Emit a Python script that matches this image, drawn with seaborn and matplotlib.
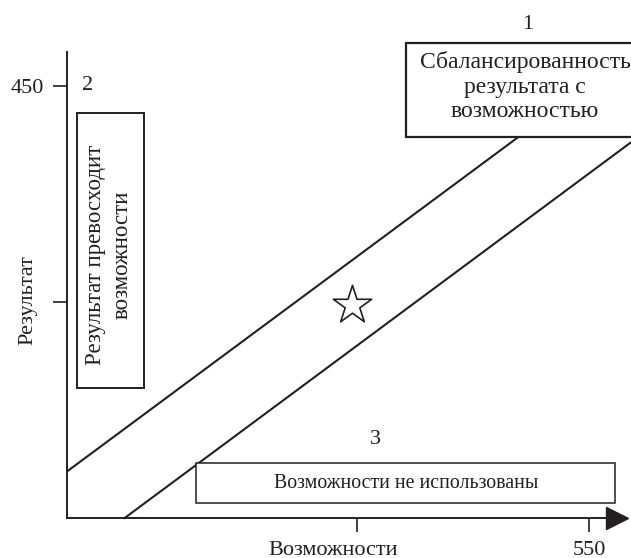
import matplotlib
matplotlib.use('Agg')
import matplotlib.pyplot as plt
import seaborn as sns
import pandas as pd
from matplotlib.patches import Rectangle

# ---- data ----
upper_x = [0, 476]
upper_y = [49, 397]
lower_x = [60, 594]
lower_y = [0, 391]
star_x = [300]
star_y = [222]
x_ticks = [305, 550]
x_tick_labels = ['', '550']
y_ticks = [225, 450]
y_tick_labels = ['', '450']
x_label = 'Возможности'
y_label = 'Результат'
zone_numbers = ['1', '2', '3']
zone_texts = ['Сбалансированность\nрезультата с\nвозможностью',
              'Результат превосходит\nвозможности',
              'Возможности не использованы']

sns.set_style('white')
plt.rcParams['font.family'] = ['Liberation Serif', 'DejaVu Serif']
INK = '#231f20'

fig = plt.figure(figsize=(6.31, 5.58), dpi=100)
ax = fig.add_axes([0.1067, 0.0711, 0.8886, 0.8357])
ax.set_xlim(0, 591)
ax.set_ylim(0, 485)

lines_df = pd.DataFrame({'x': upper_x + lower_x,
                         'y': upper_y + lower_y,
                         'line': ['upper'] * 2 + ['lower'] * 2})
sns.lineplot(data=lines_df, x='x', y='y', units='line', estimator=None,
             color=INK, lw=1.5, ax=ax, sort=False, legend=False)
for l in ax.lines:
    l.set_clip_on(False)

sns.scatterplot(x=star_x, y=star_y, marker='*', s=841, facecolor='white',
                edgecolor=INK, linewidth=1.2, ax=ax, zorder=4, legend=False)

# axes styling
for s in ['top', 'right']:
    ax.spines[s].set_visible(False)
for s in ['left', 'bottom']:
    ax.spines[s].set_color(INK)
    ax.spines[s].set_linewidth(1.4)
ax.spines['bottom'].set_bounds(0, 579)
ax.plot([579], [0], marker='>', ms=16.5, color=INK, clip_on=False, zorder=5)

ax.set_xticks(x_ticks)
ax.set_xticklabels(x_tick_labels)
ax.set_yticks(y_ticks)
ax.set_yticklabels(y_tick_labels)
ax.tick_params(axis='both', direction='out', length=10, width=1.2, color=INK,
               labelsize=16, labelcolor=INK, bottom=True, left=True)
ax.tick_params(axis='x', pad=6)
ax.tick_params(axis='y', pad=7)
ax.set_xlabel('')
ax.set_ylabel('')

# zone boxes
ax.add_patch(Rectangle((357, 397), 263, 97.7, facecolor='white', edgecolor=INK,
                       lw=1.6, clip_on=False, zorder=3))
ax.add_patch(Rectangle((10.5, 135.2), 70.4, 286.1, facecolor='white', edgecolor=INK,
                       lw=1.4, clip_on=False, zorder=3))
ax.add_patch(Rectangle((135.7, 15.6), 441.7, 41.6, facecolor='white', edgecolor=INK,
                       lw=1.1, clip_on=False, zorder=3))

ax.text(485.4, 513.2, zone_numbers[0], ha='center', va='center', fontsize=16,
        color=INK, clip_on=False)
ax.text(482.5, 448.7, zone_texts[0], ha='center', va='center', fontsize=17,
        linespacing=1.22, multialignment='center', color=INK, zorder=6)
ax.text(21.8, 450, zone_numbers[1], ha='center', va='center', fontsize=16, color=INK)
ax.text(43.4, 274, zone_texts[1], rotation=90, ha='center', va='center',
        fontsize=16.5, linespacing=1.33, multialignment='center', color=INK, zorder=6)
ax.text(324.4, 81.5, zone_numbers[2], ha='center', va='center', fontsize=16, color=INK)
ax.text(357, 36.7, zone_texts[2], ha='center', va='center', fontsize=14.3,
        color=INK, zorder=6)

ax.text(-0.070, 0.468, y_label, transform=ax.transAxes, rotation=90,
        ha='center', va='center', fontsize=16, color=INK)
ax.text(0.474, -0.068, x_label, transform=ax.transAxes,
        ha='center', va='center', fontsize=16, color=INK)

fig.savefig('out.png', dpi=100)
